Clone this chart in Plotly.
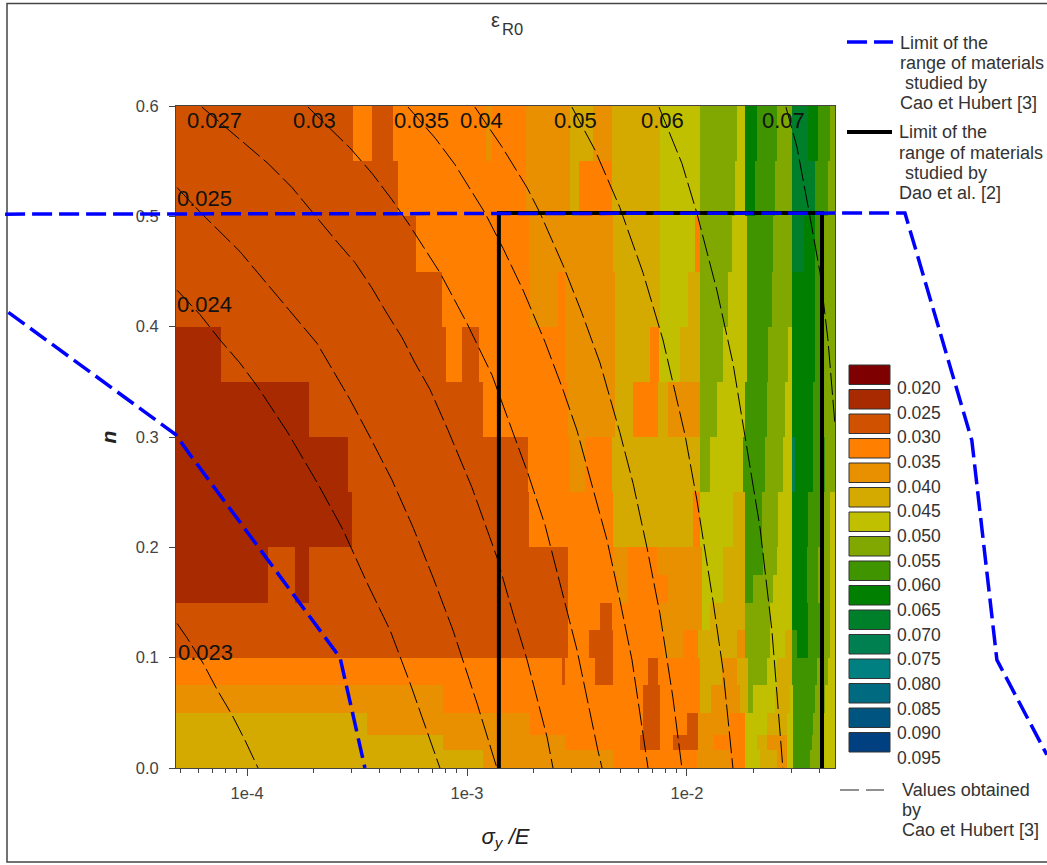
import plotly.graph_objects as go

# Legend levels of eps_R0 and their colours
level_labels = ["0.020","0.025","0.030","0.035","0.040","0.045","0.050","0.055",
                "0.060","0.065","0.070","0.075","0.080","0.085","0.090","0.095"]
level_colors = ["#7f0000","#a82a00","#d05200","#ff7f00","#e89000","#d4a900","#c0c000","#80a800",
                "#409400","#007f00","#007f2a","#008050","#008080","#006a80","#005480","#003f80"]

# Band edges in n, bottom to top
n_edges = [0,.016,.03,.05,.075,.1,.125,.15,.175,.2,.25,.3,.35,.4,.45,.5,.55,.6]
X_MIN, X_MAX = -4.323, -1.327   # log10(sigma_y/E)

# One row per n band: (log10(sigma_y/E) where the run ends, level index)
band_runs = [
 [(-2.927,5),(-2.336,4),(-1.955,3),(-1.805,4),(-1.736,3),(-1.668,6),(-1.591,5),(-1.545,4),(-1.518,6),(-1.441,8),(-1.395,7),(X_MAX,6)],
 [(-3.109,5),(-2.555,4),(-2.214,3),(-2.123,2),(-2.064,3),(-1.95,2),(-1.877,4),(-1.736,3),(-1.682,6),(-1.636,5),(-1.545,4),(-1.518,6),(-1.432,8),(-1.395,7),(X_MAX,6)],
 [(-3.455,5),(-2.714,4),(-2.2,3),(-2.123,2),(-2.0,3),(-1.95,2),(-1.805,4),(-1.736,3),(-1.636,6),(-1.545,5),(-1.518,6),(-1.427,8),(-1.386,7),(X_MAX,6)],
 [(-3.109,4),(-2.2,3),(-2.123,2),(-1.941,3),(-1.891,5),(-1.759,4),(-1.723,5),(-1.7,7),(-1.6,6),(-1.532,5),(-1.518,6),(-1.418,8),(-1.373,7),(X_MAX,6)],
 [(-2.568,3),(-2.555,2),(-2.418,3),(-2.336,2),(-2.177,3),(-2.132,2),(-1.941,3),(-1.841,5),(-1.773,4),(-1.723,5),(-1.636,7),(-1.591,6),(-1.523,5),(-1.409,8),(-1.359,7),(X_MAX,6)],
 [(-2.541,2),(-2.445,3),(-2.336,2),(-2.109,3),(-2.018,4),(-1.95,3),(-1.773,5),(-1.736,4),(-1.623,7),(-1.555,6),(-1.523,5),(-1.5,8),(-1.45,9),(-1.395,8),(-1.35,7),(X_MAX,6)],
 [(-2.541,2),(-2.395,3),(-2.341,2),(-2.123,3),(-1.932,4),(-1.895,6),(-1.736,5),(-1.623,7),(-1.523,6),(-1.45,9),(-1.395,8),(-1.35,7),(X_MAX,6)],
 [(-3.905,1),(-3.782,2),(-3.718,1),(-2.541,2),(-2.314,3),(-2.268,4),(-2.086,3),(-1.932,4),(-1.836,6),(-1.736,5),(-1.7,8),(-1.609,7),(-1.523,6),(-1.455,9),(-1.405,8),(-1.35,7),(X_MAX,6)],
 [(-3.905,1),(-3.782,2),(-3.718,1),(-2.541,2),(-2.336,3),(-2.268,4),(-2.136,3),(-1.932,4),(-1.836,6),(-1.736,5),(-1.655,8),(-1.591,7),(-1.523,6),(-1.455,9),(-1.405,8),(-1.35,7),(X_MAX,6)],
 [(-3.523,1),(-2.718,2),(-2.336,3),(-1.973,5),(-1.941,3),(-1.791,6),(-1.736,5),(-1.659,8),(-1.586,7),(-1.523,6),(-1.45,9),(-1.395,8),(-1.35,7),(X_MAX,6)],
 [(-3.541,1),(-2.723,2),(-2.532,3),(-2.464,4),(-2.341,3),(-1.941,5),(-1.895,7),(-1.745,6),(-1.645,8),(-1.564,7),(-1.523,6),(-1.509,11),(-1.427,9),(-1.373,8),(X_MAX,7)],
 [(-3.718,1),(-2.927,2),(-2.541,3),(-2.327,4),(-2.245,5),(-2.132,3),(-2.086,5),(-1.941,4),(-1.864,7),(-1.736,6),(-1.636,8),(-1.555,7),(-1.523,6),(-1.427,9),(-1.382,8),(X_MAX,7)],
 [(-4.118,1),(-3.095,2),(-3.023,3),(-2.945,2),(-2.555,3),(-2.327,4),(-2.168,5),(-2.127,3),(-2.032,6),(-1.941,5),(-1.836,7),(-1.727,6),(-1.632,8),(-1.541,7),(-1.523,6),(-1.418,9),(-1.386,8),(X_MAX,7)],
 [(-3.114,2),(-2.714,3),(-2.586,4),(-2.555,3),(-2.327,4),(-2.123,5),(-1.995,6),(-1.941,5),(-1.814,7),(-1.727,6),(-1.614,8),(-1.523,7),(-1.418,9),(-1.386,8),(X_MAX,7)],
 [(-3.232,2),(-2.718,3),(-2.336,4),(-2.123,5),(-1.964,6),(-1.941,3),(-1.795,7),(-1.727,6),(-1.609,8),(-1.523,7),(-1.468,10),(-1.418,9),(-1.382,8),(X_MAX,7)],
 [(-3.314,2),(-2.732,3),(-2.532,4),(-2.491,5),(-2.341,3),(-2.123,5),(-1.941,6),(-1.782,7),(-1.736,6),(-1.691,9),(-1.6,8),(-1.523,7),(-1.418,10),(-1.359,8),(X_MAX,7)],
 [(-3.518,2),(-3.432,3),(-3.336,2),(-2.914,3),(-2.886,4),(-2.732,3),(-2.532,4),(-2.427,5),(-2.341,4),(-2.123,5),(-1.941,6),(-1.773,7),(-1.736,6),(-1.682,9),(-1.591,8),(-1.523,7),(-1.45,10),(-1.405,9),(-1.35,8),(X_MAX,7)],
]

# Dashed curves: Cao et Hubert values (log10(sigma_y/E), n)
curve_023_x = [-4.318,-4.273,-4.2,-4.136,-4.068,-4.009,-3.95]
curve_023_n = [.131,.118,.095,.071,.048,.025,.0]
curve_024_x = [-4.318,-4.214,-4.123,-4.032,-3.95,-3.818,-3.682,-3.564,-3.455,-3.35,-3.259,-3.182,-3.123]
curve_024_n = [.433,.411,.388,.367,.345,.305,.259,.216,.168,.125,.077,.034,0]
curve_025_x = [-4.318,-4.214,-4.032,-3.836,-3.682,-3.532,-3.441,-3.341,-3.245,-3.155,-3.064,-2.955,-2.864]
curve_025_n = [.526,.504,.468,.422,.385,.334,.3,.261,.218,.173,.125,.059,0]
curve_027_x = [-4.205,-4.018,-3.905,-3.795,-3.7,-3.6,-3.509,-3.432,-3.364,-3.295,-3.236,-3.168,-3.086,-2.977,-2.864,-2.791,-2.727,-2.636,-2.609]
curve_027_n = [.599,.567,.548,.526,.503,.479,.458,.435,.412,.39,.367,.343,.306,.254,.191,.14,.098,.028,0]
curve_03_x = [-3.723,-3.532,-3.432,-3.341,-3.268,-3.123,-3,-2.886,-2.791,-2.723,-2.645,-2.586,-2.5,-2.405,-2.386]
curve_03_n = [.599,.562,.539,.515,.494,.449,.403,.356,.304,.267,.22,.175,.107,.016,0]
curve_035_x = [-3.268,-3.145,-3.055,-2.918,-2.836,-2.745,-2.645,-2.564,-2.5,-2.427,-2.364,-2.314,-2.25,-2.177]
curve_035_n = [.599,.571,.547,.503,.471,.433,.386,.343,.306,.252,.207,.161,.098,0]
curve_04_x = [-2.964,-2.841,-2.727,-2.668,-2.564,-2.477,-2.395,-2.305,-2.245,-2.182,-2.123,-2.064,-2.023]
curve_04_n = [.599,.563,.526,.503,.456,.412,.367,.304,.258,.2,.14,.064,0]
curve_05_x = [-2.523,-2.418,-2.305,-2.2,-2.109,-2.009,-1.955,-1.882,-1.836,-1.791]
curve_05_n = [.599,.56,.508,.449,.388,.302,.243,.152,.089,0]
curve_06_x = [-2.127,-2.023,-1.955,-1.864,-1.791,-1.736,-1.668,-1.614,-1.564]
curve_06_n = [.599,.548,.503,.433,.367,.302,.218,.125,0]
curve_07_x = [-1.55,-1.5,-1.455,-1.395,-1.359,-1.336,-1.327]
curve_07_n = [.599,.563,.515,.449,.388,.334,.311]

curves_x = [curve_023_x,curve_024_x,curve_025_x,curve_027_x,curve_03_x,curve_035_x,curve_04_x,curve_05_x,curve_06_x,curve_07_x]
curves_n = [curve_023_n,curve_024_n,curve_025_n,curve_027_n,curve_03_n,curve_035_n,curve_04_n,curve_05_n,curve_06_n,curve_07_n]

# Curve labels: text, log10(sigma_y/E), n
label_text = ["0.027","0.03","0.035","0.04","0.05","0.06","0.07","0.025","0.024","0.023"]
label_x = [-4.15,-3.695,-3.205,-2.936,-2.505,-2.109,-1.559,-4.195,-4.195,-4.19]
label_n = [.587,.587,.587,.587,.587,.587,.587,.516,.42,.105]

# Limits of the ranges of materials
cao_upper_x = [-5.1,-1.009,-0.705,-0.591,-0.364]
cao_upper_n = [.502,.503,.297,.098,.012]
cao_lower_x = [-5.085,-4.85,-4.323,-4.259,-3.577,-3.464]
cao_lower_n = [.413,.379,.302,.284,.1,0]
dao_x = [-2.855,-2.855,-1.386,-1.386]
dao_n = [0,.503,.503,0]

# Build the z matrix on the union of the run ends
ends = sorted({X_MIN} | {e for row in band_runs for e, _ in row})
z = []
for row in band_runs:
    cells = []
    for left, right in zip(ends[:-1], ends[1:]):
        mid = (left + right) / 2
        cells.append(next(lev for e, lev in row if mid <= e))
    z.append(cells)
x_edges = [10 ** e for e in ends]

n_lv = len(level_colors)
colorscale = []
for i, c in enumerate(level_colors):
    colorscale += [[i / n_lv, c], [(i + 1) / n_lv, c]]

FONT = "Liberation Sans"
W, H = 1047, 865
L, R, T, B = 176, 835, 106, 768
def px(x): return x / W
def py(y): return 1 - y / H

fig = go.Figure()
fig.add_trace(go.Heatmap(x=x_edges, y=n_edges, z=z, zmin=-.5, zmax=n_lv - .5,
                         colorscale=colorscale, showscale=False, hoverinfo="skip"))
for cx, cn in zip(curves_x, curves_n):
    fig.add_trace(go.Scatter(x=[10 ** v for v in cx], y=cn, mode="lines", showlegend=False,
                             hoverinfo="skip", line=dict(color="black", width=1, dash="22px,5px")))
fig.add_trace(go.Scatter(x=[10 ** v for v in dao_x], y=dao_n, mode="lines", showlegend=False,
                         hoverinfo="skip", line=dict(color="black", width=4)))
# The Cao et Hubert limits run past the plot area, so they use full-page axes with the same scales
for cx, cn in ((cao_upper_x, cao_upper_n), (cao_lower_x, cao_lower_n)):
    fig.add_trace(go.Scatter(x=[10 ** v for v in cx], y=cn, mode="lines", showlegend=False,
                             xaxis="x2", yaxis="y2", hoverinfo="skip",
                             line=dict(color="#0000ff", width=3.5, dash="20px,7px")))

shapes = [dict(type="rect", xref="paper", yref="paper", x0=px(7), x1=px(1060), y0=py(862), y1=py(3.5),
               line=dict(color="#444", width=1.5), layer="below")]
annotations = []
def text(x, y, s, size=18, color="#333", xanchor="left", xref="paper", yref="paper"):
    annotations.append(dict(x=x, y=y, xref=xref, yref=yref, text=s, showarrow=False, xanchor=xanchor,
                            yanchor="middle", font=dict(family=FONT, size=size, color=color)))

for i, (c, lab) in enumerate(zip(level_colors, level_labels)):
    top = 365 + 24.5 * i
    shapes.append(dict(type="rect", xref="paper", yref="paper", x0=px(849), x1=px(890),
                       y0=py(top + 19.5), y1=py(top), fillcolor=c, line=dict(color="#333", width=1)))
    text(px(895), py(388 + 24.67 * i), lab, size=17.5)

shapes += [
    dict(type="line", xref="paper", yref="paper", x0=px(847), x1=px(893), y0=py(42), y1=py(42),
         line=dict(color="#0000ff", width=3.5, dash="20px,7px")),
    dict(type="line", xref="paper", yref="paper", x0=px(847), x1=px(892), y0=py(132), y1=py(132),
         line=dict(color="black", width=4)),
    dict(type="line", xref="paper", yref="paper", x0=px(840), x1=px(884), y0=py(790), y1=py(790),
         line=dict(color="#222", width=1, dash="19px,7px")),
]
for y, s, x in [(43,"Limit of the",898),(63,"range of materials",898),(83,"studied by",903),(103,"Cao et Hubert [3]",898),
                (132,"Limit of the",897),(153,"range of materials",897),(173,"studied by",903),(193,"Dao et al. [2]",897),
                (790,"Values obtained",900),(810,"by",900),(830,"Cao et Hubert [3]",900)]:
    text(px(x), py(y), s, size=18)

for s, lx, ln in zip(label_text, label_x, label_n):
    text(lx, ln, s, size=22, color="#111", xanchor="center", xref="x", yref="y")

text(px(495), py(20), "ε", size=20, xanchor="center")
text(px(512), py(29), "R0", size=16.5, xanchor="center")

decade_marks = [1e-4, 1e-3, 1e-2]
minor_marks = [m * d for d in (1e-5, 1e-4, 1e-3, 1e-2) for m in range(2, 10)
               if 10 ** X_MIN <= m * d <= 10 ** X_MAX]

# Full-page axes: same scale as the main axes, extended to the page edges
decade_px = (R - L) / (X_MAX - X_MIN)
unit_px = (B - T) / .6
page_x_range = [X_MIN - L / decade_px, X_MAX + (W - R) / decade_px]
page_y_range = [-(H - B) / unit_px, .6 + T / unit_px]

fig.update_layout(
    width=W, height=H, margin=dict(l=0, r=0, t=0, b=0, autoexpand=False),
    paper_bgcolor="white", plot_bgcolor="rgba(0,0,0,0)", showlegend=False,
    font=dict(family=FONT, size=16.5, color="#444"),
    shapes=shapes, annotations=annotations,
    xaxis=dict(type="log", domain=[L / W, R / W], range=[X_MIN, X_MAX], tickmode="array", tickvals=decade_marks,
               ticktext=["1e-4", "1e-3", "1e-2"], ticks="outside", ticklen=7, tickcolor="#444",
               ticklabelstandoff=3,
               minor=dict(tickmode="array", tickvals=minor_marks, ticks="outside", ticklen=4, tickcolor="#444"),
               showgrid=False, zeroline=False, showline=True, linecolor="#444", mirror=True,
               title=dict(text="<i>σ<sub>y</sub> /E</i>", font=dict(size=22, color="#222"), standoff=27)),
    yaxis=dict(domain=[1 - B / H, 1 - T / H], range=[0, .6], tickmode="array", tickvals=[0, .1, .2, .3, .4, .5, .6],
               ticktext=["0.0", "0.1", "0.2", "0.3", "0.4", "0.5", "0.6"], ticks="outside", ticklen=6,
               ticklabelstandoff=7,
               tickcolor="#444", showgrid=False, zeroline=False, showline=True, linecolor="#444", mirror=True,
               title=dict(text="<i><b>n</b></i>", font=dict(size=21, color="#222"), standoff=13)),
    xaxis2=dict(type="log", domain=[0, 1], range=page_x_range, visible=False, anchor="y2"),
    yaxis2=dict(domain=[0, 1], range=page_y_range, visible=False, anchor="x2"),
)
fig.write_html("out.html", config={"displayModeBar": False},
               post_script="document.body.style.margin='0';document.documentElement.style.overflow='hidden';")
